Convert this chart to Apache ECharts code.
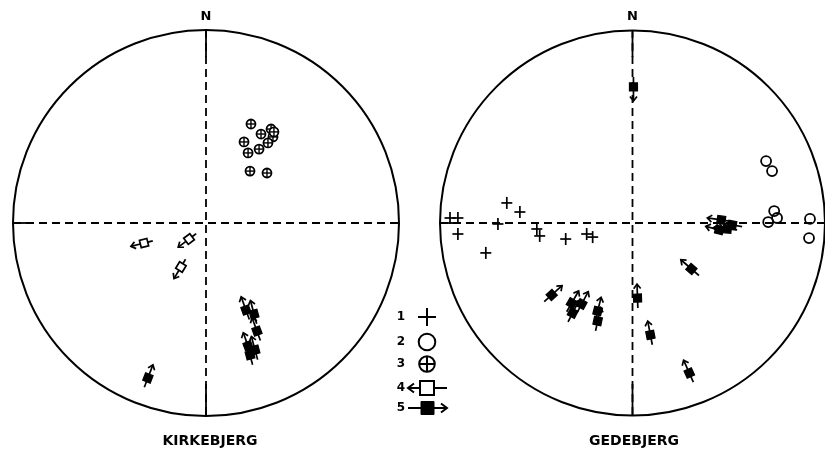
<!DOCTYPE html>
<html><head><meta charset="utf-8">
<script src="https://cdn.jsdelivr.net/npm/echarts@6/dist/echarts.min.js"></script>
<style>html,body{margin:0;padding:0;background:#fff}#c{width:825px;height:449px}</style>
</head><body><div id="c"></div>
<script>
// ---- texts ----
const panelTitles = ['KIRKEBJERG', 'GEDEBJERG'];
const northLabel = 'N';
const legendLabels = ['1', '2', '3', '4', '5'];

// ---- data: projected positions on the net (unit circle), [x, y] or [x, y, azimuth of arrow in degrees] ----
// Kirkebjerg
const kirkeCrossedCircles = [
  [0.233, 0.513], [0.337, 0.487], [0.285, 0.461], [0.347, 0.446], [0.352, 0.472],
  [0.321, 0.415], [0.197, 0.420], [0.275, 0.383], [0.218, 0.363], [0.228, 0.269], [0.316, 0.259]
];
const kirkeOpenArrows = [
  [-0.321, -0.104, 256], [-0.088, -0.083, 233], [-0.130, -0.228, 211]
];
const kirkeFilledArrows = [
  [0.207, -0.451, 340], [0.249, -0.472, 345], [0.264, -0.560, 340],
  [0.218, -0.637, 340], [0.254, -0.658, 345], [0.228, -0.684, 345],
  [-0.301, -0.803, 21]
];
// Gedebjerg
const gedePlus = [
  [-0.948, 0.026], [-0.907, 0.026], [-0.907, -0.057], [-0.653, 0.104], [-0.585, 0.057],
  [-0.699, -0.005], [-0.762, -0.155], [-0.497, -0.031], [-0.482, -0.067], [-0.347, -0.083],
  [-0.238, -0.057], [-0.207, -0.073]
];
const gedeCircles = [
  [0.694, 0.321], [0.725, 0.269], [0.736, 0.062], [0.751, 0.026], [0.705, 0.005],
  [0.922, 0.021], [0.917, -0.078]
];
const gedeFilledArrows = [
  [0.005, 0.705, 180],
  [0.461, 0.016, 278], [0.518, -0.010, 280], [0.451, -0.036, 285], [0.492, -0.031, 275],
  [0.306, -0.238, 311], [0.026, -0.389, 358], [0.093, -0.580, 349], [0.295, -0.777, 336],
  [-0.420, -0.373, 48], [-0.316, -0.415, 30], [-0.264, -0.420, 28], [-0.311, -0.466, 27],
  [-0.181, -0.456, 14], [-0.181, -0.508, 12]
];

const K = '#000';
const FONT = '"DejaVu Sans", "Liberation Sans", sans-serif';

function frameItem(params, api) {
  const c = api.coord([0, 0]);
  const r = api.size([1, 1])[0];
  const top = api.coord([0, 1]), bot = api.coord([0, -1]);
  const lft = api.coord([-1, 0]), rgt = api.coord([1, 0]);
  const dash = { stroke: K, lineWidth: 1.8, lineDash: [8, 5] };
  const solid = { stroke: K, lineWidth: 1.8 };
  return {
    type: 'group',
    children: [
      { type: 'circle', shape: { cx: c[0], cy: c[1], r: r }, style: { fill: null, stroke: K, lineWidth: 2 } },
      { type: 'line', shape: { x1: top[0], y1: top[1], x2: bot[0], y2: bot[1] }, style: dash },
      { type: 'line', shape: { x1: top[0], y1: top[1], x2: top[0], y2: top[1] + 27 }, style: solid },
      { type: 'line', shape: { x1: bot[0], y1: bot[1] - 32, x2: bot[0], y2: bot[1] }, style: solid },
      { type: 'line', shape: { x1: lft[0], y1: lft[1], x2: rgt[0], y2: rgt[1] }, style: dash },
      { type: 'line', shape: { x1: lft[0], y1: lft[1], x2: lft[0] + 20, y2: lft[1] }, style: solid },
      { type: 'text', x: top[0], y: top[1] - 13,
        style: { text: northLabel, font: 'bold 13px ' + FONT, fill: K, align: 'center', verticalAlign: 'middle', textAlign: 'center', textVerticalAlign: 'middle' } }
    ]
  };
}

function arrowShapes(px, py, az, filled, s, back, front, head, hw) {
  const a = az * Math.PI / 180;
  const u = [Math.sin(a), -Math.cos(a)];
  const v = [Math.cos(a), Math.sin(a)];
  const P = (p, q) => [px + p * u[0] + q * v[0], py + p * u[1] + q * v[1]];
  const ln = { stroke: K, lineWidth: 1.7 };
  const sq = [P(-s, -s), P(-s, s), P(s, s), P(s, -s)];
  const out = [];
  if (filled) {
    const t = P(-back, 0), f = P(front, 0);
    out.push({ type: 'line', shape: { x1: t[0], y1: t[1], x2: f[0], y2: f[1] }, style: ln });
    out.push({ type: 'polygon', shape: { points: sq }, style: { fill: K, stroke: K, lineWidth: 1.2 } });
  } else {
    const t = P(-back, 0), t2 = P(-s, 0), f1 = P(s, 0), f = P(front, 0);
    out.push({ type: 'line', shape: { x1: t[0], y1: t[1], x2: t2[0], y2: t2[1] }, style: ln });
    out.push({ type: 'line', shape: { x1: f1[0], y1: f1[1], x2: f[0], y2: f[1] }, style: ln });
    out.push({ type: 'polygon', shape: { points: sq }, style: { fill: '#fff', stroke: K, lineWidth: 1.7 } });
  }
  out.push({ type: 'polyline', shape: { points: [P(front - head, -hw), P(front, 0), P(front - head, hw)] }, style: { fill: null, stroke: K, lineWidth: 1.7 } });
  return out;
}

function markItem(kind) {
  return function (params, api) {
    const p = api.coord([api.value(0), api.value(1)]);
    const x = p[0], y = p[1];
    const ln = { stroke: K, lineWidth: 1.7 };
    let children;
    if (kind === 'plus') {
      children = [
        { type: 'line', shape: { x1: x - 5.5, y1: y, x2: x + 5.5, y2: y }, style: ln },
        { type: 'line', shape: { x1: x, y1: y - 6, x2: x, y2: y + 6 }, style: ln }
      ];
    } else if (kind === 'circle') {
      children = [{ type: 'circle', shape: { cx: x, cy: y, r: 5 }, style: { fill: null, stroke: K, lineWidth: 1.8 } }];
    } else if (kind === 'ocross') {
      children = [
        { type: 'circle', shape: { cx: x, cy: y, r: 4.5 }, style: { fill: '#fff', stroke: K, lineWidth: 1.8 } },
        { type: 'line', shape: { x1: x - 4.5, y1: y, x2: x + 4.5, y2: y }, style: { stroke: K, lineWidth: 1.4 } },
        { type: 'line', shape: { x1: x, y1: y - 4.5, x2: x, y2: y + 4.5 }, style: { stroke: K, lineWidth: 1.4 } }
      ];
    } else if (kind === 'filled') {
      children = arrowShapes(x, y, api.value(2), true, 4, 10, 14, 4.5, 3.5);
    } else {
      children = arrowShapes(x, y, api.value(2), false, 3.8, 9, 13.5, 4.5, 3.5);
    }
    return { type: 'group', children: children };
  };
}

function series(data, kind, idx) {
  return {
    type: 'custom', xAxisIndex: idx, yAxisIndex: idx, data: data,
    renderItem: markItem(kind), silent: true, animation: false, z: 3,
    encode: { x: 0, y: 1 }
  };
}

const axisX = (i) => ({ type: 'value', gridIndex: i, min: -1, max: 1, show: false });
const axisY = (i) => ({ type: 'value', gridIndex: i, min: -1, max: 1, show: false });

// legend (graphic)
const lgX = 427, numX = 401, lgY = [317, 342, 364, 388, 408];
const legendGraphics = [];
legendLabels.forEach((t, i) => {
  legendGraphics.push({ type: 'text', x: numX, y: lgY[i],
    style: { text: t, font: 'bold 12px ' + FONT, fill: K, align: 'center', verticalAlign: 'middle', textAlign: 'center', textVerticalAlign: 'middle' } });
});
const lw = { stroke: K, lineWidth: 2 };
legendGraphics.push(
  { type: 'line', shape: { x1: lgX - 9, y1: lgY[0], x2: lgX + 9, y2: lgY[0] }, style: lw },
  { type: 'line', shape: { x1: lgX, y1: lgY[0] - 9, x2: lgX, y2: lgY[0] + 9 }, style: lw },
  { type: 'circle', shape: { cx: lgX, cy: lgY[1], r: 8.3 }, style: { fill: null, stroke: K, lineWidth: 2 } },
  { type: 'circle', shape: { cx: lgX, cy: lgY[2], r: 7.8 }, style: { fill: null, stroke: K, lineWidth: 2 } },
  { type: 'line', shape: { x1: lgX - 7.8, y1: lgY[2], x2: lgX + 7.8, y2: lgY[2] }, style: lw },
  { type: 'line', shape: { x1: lgX, y1: lgY[2] - 7.8, x2: lgX, y2: lgY[2] + 7.8 }, style: lw },
  // 4: open square, arrow pointing left
  { type: 'line', shape: { x1: 408, y1: lgY[3], x2: 420, y2: lgY[3] }, style: lw },
  { type: 'line', shape: { x1: 434, y1: lgY[3], x2: 447, y2: lgY[3] }, style: lw },
  { type: 'polyline', shape: { points: [[414, lgY[3] - 4.5], [408, lgY[3]], [414, lgY[3] + 4.5]] }, style: { fill: null, stroke: K, lineWidth: 2 } },
  { type: 'rect', shape: { x: 420, y: lgY[3] - 7, width: 14, height: 14 }, style: { fill: '#fff', stroke: K, lineWidth: 2 } },
  // 5: filled square, arrow pointing right
  { type: 'line', shape: { x1: 408, y1: lgY[4], x2: 447, y2: lgY[4] }, style: lw },
  { type: 'polyline', shape: { points: [[441, lgY[4] - 4.5], [447, lgY[4]], [441, lgY[4] + 4.5]] }, style: { fill: null, stroke: K, lineWidth: 2 } },
  { type: 'rect', shape: { x: 421, y: lgY[4] - 6.5, width: 13, height: 13 }, style: { fill: K, stroke: K, lineWidth: 1 } }
);
const titleX = [210, 634];
panelTitles.forEach((t, i) => {
  legendGraphics.push({ type: 'text', x: titleX[i], y: 441,
    style: { text: t, font: 'bold 14px ' + FONT, fill: K, align: 'center', verticalAlign: 'middle', textAlign: 'center', textVerticalAlign: 'middle' } });
});

const option = {
  backgroundColor: '#fff',
  animation: false,
  grid: [
    { left: 13, top: 30, width: 386, height: 386 },
    { left: 440, top: 30, width: 386, height: 386 }
  ],
  xAxis: [axisX(0), axisX(1)],
  yAxis: [axisY(0), axisY(1)],
  graphic: legendGraphics,
  series: [
    { type: 'custom', xAxisIndex: 0, yAxisIndex: 0, data: [[0, 0]], renderItem: frameItem, silent: true, z: 1, encode: { x: 0, y: 1 } },
    { type: 'custom', xAxisIndex: 1, yAxisIndex: 1, data: [[0, 0]], renderItem: frameItem, silent: true, z: 1, encode: { x: 0, y: 1 } },
    series(kirkeCrossedCircles, 'ocross', 0),
    series(kirkeOpenArrows, 'open', 0),
    series(kirkeFilledArrows, 'filled', 0),
    series(gedePlus, 'plus', 1),
    series(gedeCircles, 'circle', 1),
    series(gedeFilledArrows, 'filled', 1)
  ]
};
const chart = echarts.init(document.getElementById('c'), null, { renderer: 'canvas' });
chart.setOption(option);
</script></body></html>
